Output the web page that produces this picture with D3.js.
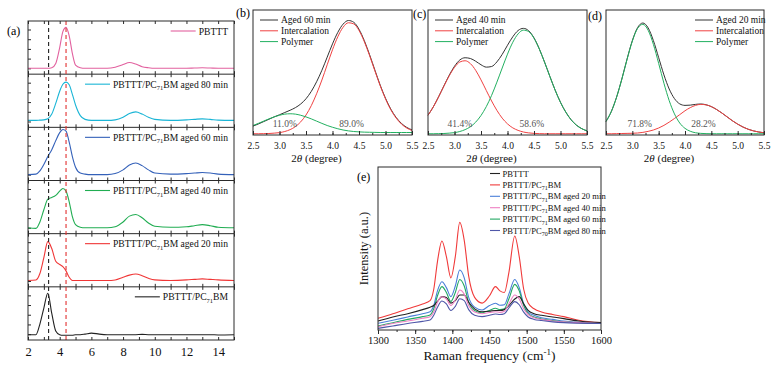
<!DOCTYPE html>
<html>
<head>
<meta charset="utf-8">
<script src="https://cdn.jsdelivr.net/npm/d3@7"></script>
<style>
  html, body { margin: 0; padding: 0; background: #fff; }
  svg { display: block; }
</style>
</head>
<body>
<svg id="fig" width="776" height="367"></svg>
<script>
// ── Data ──────────────────────────────────────────────────────────────────────
// (a) XRD profiles, 2θ grid and normalised intensity per sub-panel (top → bottom)
const aX = [2, 2.5, 2.75, 3, 3.25, 3.5, 3.75, 4, 4.2, 4.4, 4.6, 4.8, 5, 5.3, 5.6, 6,
            6.5, 7, 7.5, 8, 8.4, 8.8, 9.2, 9.6, 10, 11, 12, 12.5, 13, 13.5, 14, 15];
const aLabels = ['PBTTT', 'PBTTT/PC_71_BM aged 80 min', 'PBTTT/PC_71_BM aged 60 min',
                 'PBTTT/PC_71_BM aged 40 min', 'PBTTT/PC_71_BM aged 20 min', 'PBTTT/PC_71_BM'];
const aPBTTT = [0.11, 0.11, 0.11, 0.11, 0.11, 0.12, 0.2, 0.5, 0.8, 0.88, 0.72, 0.39, 0.17, 0.12, 0.11, 0.11,
                0.11, 0.11, 0.13, 0.18, 0.22, 0.19, 0.14, 0.12, 0.11, 0.11, 0.11, 0.115, 0.12, 0.115, 0.11, 0.11];
const aAged80 = [0.13, 0.13, 0.135, 0.14, 0.16, 0.25, 0.45, 0.68, 0.81, 0.85, 0.8, 0.62, 0.42, 0.22, 0.15, 0.13,
                 0.13, 0.13, 0.14, 0.19, 0.26, 0.29, 0.25, 0.19, 0.15, 0.13, 0.14, 0.15, 0.16, 0.15, 0.135, 0.13];
const aAged60 = [0.11, 0.12, 0.18, 0.3, 0.45, 0.58, 0.75, 0.9, 0.96, 0.93, 0.72, 0.45, 0.25, 0.14, 0.12, 0.11,
                 0.11, 0.11, 0.13, 0.2, 0.29, 0.33, 0.28, 0.2, 0.14, 0.12, 0.13, 0.14, 0.15, 0.14, 0.12, 0.11];
const aAged40 = [0.11, 0.1, 0.22, 0.45, 0.65, 0.68, 0.72, 0.8, 0.85, 0.8, 0.6, 0.32, 0.17, 0.12, 0.11, 0.11,
                 0.11, 0.11, 0.13, 0.22, 0.33, 0.36, 0.3, 0.2, 0.14, 0.12, 0.13, 0.15, 0.17, 0.15, 0.12, 0.11];
const aAged20 = [0.12, 0.13, 0.25, 0.55, 0.85, 0.72, 0.48, 0.42, 0.38, 0.3, 0.18, 0.12, 0.12, 0.12, 0.12, 0.12,
                 0.12, 0.12, 0.13, 0.18, 0.22, 0.24, 0.21, 0.16, 0.13, 0.12, 0.13, 0.14, 0.15, 0.14, 0.13, 0.12];
const aBlend = [0.1, 0.1, 0.3, 0.6, 0.88, 0.5, 0.17, 0.1, 0.09, 0.09, 0.09, 0.09, 0.1, 0.1, 0.11, 0.13,
                0.11, 0.1, 0.1, 0.1, 0.1, 0.1, 0.105, 0.1, 0.1, 0.1, 0.1, 0.1, 0.1, 0.1, 0.095, 0.1];
const aDashBlack = 3.3;
const aDashRed = 4.4;

// (b)–(d) peak fits, 2θ = 2.5 … 5.5 step 0.1
const fitX = [2.5, 2.6, 2.7, 2.8, 2.9, 3.0, 3.1, 3.2, 3.3, 3.4, 3.5, 3.6, 3.7, 3.8, 3.9, 4.0,
              4.1, 4.2, 4.3, 4.4, 4.5, 4.6, 4.7, 4.8, 4.9, 5.0, 5.1, 5.2, 5.3, 5.4, 5.5];
const fitTicks = [2.5, 3.0, 3.5, 4.0, 4.5, 5.0, 5.5];

const bTotal = [0.071, 0.088, 0.107, 0.126, 0.145, 0.162, 0.18, 0.198, 0.219, 0.248, 0.29, 0.349, 0.426, 0.518, 0.623, 0.729,
                0.821, 0.887, 0.916, 0.902, 0.846, 0.755, 0.642, 0.519, 0.399, 0.294, 0.207, 0.141, 0.093, 0.061, 0.041];
const bInter = [0.01, 0.01, 0.011, 0.012, 0.015, 0.019, 0.028, 0.043, 0.067, 0.105, 0.16, 0.235, 0.33, 0.44, 0.562, 0.682,
                0.786, 0.862, 0.898, 0.889, 0.836, 0.747, 0.635, 0.513, 0.394, 0.289, 0.202, 0.136, 0.088, 0.056, 0.036];
const bPoly = [0.076, 0.093, 0.111, 0.129, 0.145, 0.158, 0.167, 0.17, 0.167, 0.158, 0.145, 0.129, 0.111, 0.093, 0.076, 0.062,
               0.05, 0.04, 0.033, 0.028, 0.025, 0.023, 0.022, 0.021, 0.02, 0.02, 0.02, 0.02, 0.02, 0.02, 0.02];

const cTotal = [0.158, 0.225, 0.306, 0.393, 0.478, 0.55, 0.6, 0.618, 0.612, 0.59, 0.562, 0.543, 0.548, 0.585, 0.645, 0.718,
                0.786, 0.836, 0.853, 0.834, 0.777, 0.689, 0.582, 0.468, 0.358, 0.261, 0.183, 0.122, 0.079, 0.051, 0.033];
const cInter = [0.158, 0.225, 0.305, 0.391, 0.473, 0.541, 0.584, 0.594, 0.571, 0.517, 0.441, 0.356, 0.272, 0.197, 0.135, 0.089,
                0.057, 0.037, 0.024, 0.017, 0.013, 0.011, 0.01, 0.01, 0.01, 0.01, 0.01, 0.01, 0.01, 0.01, 0.01];
const cPoly = [0.01, 0.01, 0.011, 0.012, 0.015, 0.019, 0.028, 0.043, 0.066, 0.103, 0.156, 0.227, 0.317, 0.423, 0.536, 0.647,
               0.742, 0.809, 0.839, 0.827, 0.774, 0.688, 0.582, 0.468, 0.358, 0.261, 0.183, 0.122, 0.079, 0.051, 0.033];

const dTotal = [0.108, 0.187, 0.302, 0.447, 0.608, 0.755, 0.859, 0.896, 0.857, 0.755, 0.619, 0.481, 0.368, 0.291, 0.249, 0.237,
                0.239, 0.245, 0.248, 0.242, 0.227, 0.204, 0.176, 0.145, 0.114, 0.087, 0.064, 0.046, 0.033, 0.024, 0.018];
const dInter = [0.01, 0.01, 0.011, 0.012, 0.013, 0.014, 0.016, 0.021, 0.029, 0.04, 0.056, 0.077, 0.103, 0.132, 0.163, 0.194,
                0.219, 0.237, 0.245, 0.241, 0.227, 0.204, 0.176, 0.145, 0.114, 0.087, 0.064, 0.046, 0.033, 0.024, 0.018];
const dPoly = [0.108, 0.187, 0.301, 0.445, 0.605, 0.751, 0.853, 0.885, 0.838, 0.725, 0.573, 0.414, 0.275, 0.169, 0.096, 0.053,
               0.03, 0.018, 0.013, 0.011, 0.01, 0.01, 0.01, 0.01, 0.01, 0.01, 0.01, 0.01, 0.01, 0.01, 0.01];

// (e) Raman spectra
const eX = [1300, 1320, 1340, 1360, 1370, 1375, 1380, 1386, 1392, 1398, 1404, 1410, 1416, 1422, 1430, 1440,
            1450, 1458, 1464, 1470, 1476, 1484, 1490, 1496, 1502, 1510, 1520, 1535, 1550, 1570, 1600];
const eTicks = [1300, 1350, 1400, 1450, 1500, 1550, 1600];
const eLabels = ['PBTTT', 'PBTTT/PC_71_BM', 'PBTTT/PC_71_BM aged 20 min', 'PBTTT/PC_71_BM aged 40 min',
                 'PBTTT/PC_71_BM aged 60 min', 'PBTTT/PC_70_BM aged 80 min'];
const ePBTTT = [0.055, 0.08, 0.1, 0.125, 0.14, 0.15, 0.175, 0.205, 0.2, 0.165, 0.18, 0.215, 0.215, 0.17, 0.13, 0.112,
                0.115, 0.12, 0.12, 0.125, 0.15, 0.19, 0.205, 0.16, 0.12, 0.1, 0.09, 0.08, 0.07, 0.055, 0.045];
const eBlend = [0.072, 0.1, 0.13, 0.16, 0.18, 0.25, 0.42, 0.546, 0.45, 0.32, 0.45, 0.66, 0.55, 0.33, 0.2, 0.165,
                0.21, 0.266, 0.24, 0.23, 0.35, 0.577, 0.45, 0.25, 0.165, 0.13, 0.11, 0.095, 0.082, 0.06, 0.045];
const eAged20 = [0.041, 0.06, 0.08, 0.1, 0.112, 0.15, 0.24, 0.296, 0.26, 0.205, 0.27, 0.368, 0.32, 0.2, 0.14, 0.123,
                 0.15, 0.164, 0.152, 0.155, 0.22, 0.31, 0.26, 0.16, 0.11, 0.09, 0.075, 0.065, 0.055, 0.047, 0.04];
const eAged40 = [0.02, 0.04, 0.055, 0.072, 0.082, 0.11, 0.17, 0.204, 0.19, 0.15, 0.185, 0.245, 0.22, 0.15, 0.11, 0.1,
                 0.107, 0.112, 0.108, 0.115, 0.16, 0.215, 0.19, 0.13, 0.095, 0.075, 0.065, 0.055, 0.05, 0.045, 0.04];
const eAged60 = [0.025, 0.045, 0.065, 0.082, 0.092, 0.13, 0.21, 0.266, 0.23, 0.175, 0.23, 0.31, 0.27, 0.17, 0.12, 0.106,
                 0.12, 0.133, 0.125, 0.13, 0.19, 0.28, 0.24, 0.15, 0.1, 0.08, 0.068, 0.058, 0.05, 0.045, 0.04];
const eAged80 = [0.01, 0.025, 0.04, 0.053, 0.061, 0.09, 0.14, 0.178, 0.16, 0.12, 0.145, 0.192, 0.18, 0.125, 0.09, 0.082,
                 0.09, 0.098, 0.095, 0.1, 0.135, 0.174, 0.155, 0.11, 0.08, 0.065, 0.058, 0.05, 0.045, 0.042, 0.04];

// ── Setup ─────────────────────────────────────────────────────────────────────
const svg = d3.select('#fig');
const INK = '#2a2a2a';
const SERIF = 'Liberation Serif, Times New Roman, serif';

function frame(x0, y0, x1, y1) {
  svg.append('rect')
    .attr('x', x0).attr('y', y0)
    .attr('width', x1 - x0).attr('height', y1 - y0)
    .attr('fill', 'none').attr('stroke', INK).attr('stroke-width', 1);
}

// "A_sub_B" → subscripted middle part
function richText(sel, str, subSize) {
  let shifted = false;
  str.split('_').forEach((p, i) => {
    if (!p) return;
    const t = sel.append('tspan').text(p);
    if (i % 2 === 1) {
      t.attr('font-size', subSize).attr('dy', 2.5);
      shifted = true;
    } else if (shifted) {
      t.attr('dy', -2.5);
      shifted = false;
    }
  });
  return sel;
}

function plotLine(xs, ys, sx, sy, color, width) {
  const line = d3.line()
    .x((d, i) => sx(xs[i]))
    .y(d => sy(d))
    .curve(d3.curveMonotoneX);
  svg.append('path')
    .datum(ys)
    .attr('d', line)
    .attr('fill', 'none')
    .attr('stroke', color)
    .attr('stroke-width', width || 1.1);
}

function tickAxis(gen, x, y) {
  const g = svg.append('g')
    .attr('transform', `translate(${x},${y})`)
    .call(gen);
  g.attr('font-family', SERIF);
  g.select('.domain').remove();
  g.selectAll('line').attr('stroke', INK);
  g.selectAll('text').attr('fill', '#111');
  return g;
}

// ── Panel (a) ─────────────────────────────────────────────────────────────────
const A = { x0: 28, x1: 234, y0: 21, y1: 340 };
const aSeries = [aPBTTT, aAged80, aAged60, aAged40, aAged20, aBlend];
const aColors = ['#e2619f', '#1ab5d6', '#3461b9', '#21ad52', '#f03636', '#222'];
const axScale = d3.scaleLinear().domain([2, 15]).range([A.x0, A.x1]);
const rowH = (A.y1 - A.y0) / aSeries.length;

aSeries.forEach((ys, i) => {
  const top = A.y0 + i * rowH;
  const bot = top + rowH;
  const sy = d3.scaleLinear().domain([0, 1]).range([bot, top]);

  // inward ticks: top, bottom, left
  tickAxis(d3.axisBottom(axScale).tickValues(d3.range(2, 16, 1)).tickSize(-3).tickFormat(''), 0, bot);
  tickAxis(d3.axisTop(axScale).tickValues(d3.range(2, 16, 1)).tickSize(-3).tickFormat(''), 0, top);
  tickAxis(d3.axisLeft(sy).tickValues(d3.range(0.11, 0.95, 0.1825)).tickSize(-3).tickFormat(''), A.x0, 0);

  plotLine(aX, ys, axScale, sy, aColors[i], 1.1);

  // legend, right aligned
  const ty = top + 13.5;
  const txt = svg.append('text')
    .attr('x', 228).attr('y', ty)
    .attr('text-anchor', 'end')
    .attr('font-family', SERIF)
    .attr('font-size', 9.6)
    .attr('fill', '#111');
  richText(txt, aLabels[i], 6.5);
  const w = txt.node().getComputedTextLength();
  svg.append('line')
    .attr('x1', 228 - w - 28).attr('x2', 228 - w - 3)
    .attr('y1', ty - 3.5).attr('y2', ty - 3.5)
    .attr('stroke', aColors[i]).attr('stroke-width', 1.1);

  if (i > 0) {
    svg.append('line')
      .attr('x1', A.x0).attr('x2', A.x1)
      .attr('y1', top).attr('y2', top)
      .attr('stroke', INK).attr('stroke-width', 1);
  }
});

// reference lines
[[aDashBlack, '#222'], [aDashRed, '#e23030']].forEach(([v, c]) => {
  svg.append('line')
    .attr('x1', axScale(v)).attr('x2', axScale(v))
    .attr('y1', A.y0).attr('y2', A.y1)
    .attr('stroke', c).attr('stroke-width', 1.1)
    .attr('stroke-dasharray', '4,3');
});

frame(A.x0, A.y0, A.x1, A.y1);

tickAxis(d3.axisBottom(axScale).tickValues(d3.range(2, 15, 2)).tickSize(0).tickPadding(7), 0, A.y1)
  .selectAll('text').attr('font-size', 12.5);

svg.append('text').attr('x', 7).attr('y', 35).attr('font-size', 12).text('(a)');

// ── Panels (b)–(d) ────────────────────────────────────────────────────────────
const fits = [
  { tag: '(b)', tagX: 236, tagY: 17, x0: 253, x1: 412, total: bTotal, inter: bInter, poly: bPoly,
    first: 'Aged 60 min', legX: 7, pct: [['11.0%', 3.1], ['89.0%', 4.36]] },
  { tag: '(c)', tagX: 413, tagY: 18, x0: 428, x1: 587, total: cTotal, inter: cInter, poly: cPoly,
    first: 'Aged 40 min', legX: 7, pct: [['41.4%', 3.1], ['58.6%', 4.46]] },
  { tag: '(d)', tagX: 588, tagY: 20, x0: 606, x1: 764, total: dTotal, inter: dInter, poly: dPoly,
    first: 'Aged 20 min', legX: 89, pct: [['71.8%', 3.14], ['28.2%', 4.35]] },
];
const FIT_Y0 = 10, FIT_Y1 = 135;
const fitColors = { total: '#333', inter: '#f04242', poly: '#22b060' };

fits.forEach(p => {
  const sx = d3.scaleLinear().domain([2.5, 5.5]).range([p.x0, p.x1]);
  const sy = d3.scaleLinear().domain([0, 1]).range([FIT_Y1, FIT_Y0]);

  plotLine(fitX, p.total, sx, sy, fitColors.total, 1);
  plotLine(fitX, p.inter, sx, sy, fitColors.inter, 1);
  plotLine(fitX, p.poly, sx, sy, fitColors.poly, 1);

  frame(p.x0, FIT_Y0, p.x1, FIT_Y1);

  tickAxis(d3.axisBottom(sx).tickValues(d3.range(2.5, 5.55, 0.25)).tickSize(-2).tickFormat(''), 0, FIT_Y1);
  tickAxis(d3.axisBottom(sx).tickValues(fitTicks).tickSize(-4).tickPadding(7).tickFormat(d3.format('.1f')), 0, FIT_Y1)
    .selectAll('text').attr('font-size', 9.5);

  const title = svg.append('text')
    .attr('x', (p.x0 + p.x1) / 2 - 16).attr('y', 162)
    .attr('text-anchor', 'middle').attr('font-size', 11).attr('fill', '#111');
  title.append('tspan').text('2');
  title.append('tspan').attr('font-style', 'italic').text('θ');
  title.append('tspan').text(' (degree)');

  // legend
  [[p.first, fitColors.total], ['Intercalation', fitColors.inter], ['Polymer', fitColors.poly]]
    .forEach(([lab, col], k) => {
      const ly = 20 + k * 10.8;
      svg.append('line')
        .attr('x1', p.x0 + p.legX).attr('x2', p.x0 + p.legX + 18)
        .attr('y1', ly).attr('y2', ly)
        .attr('stroke', col).attr('stroke-width', 1);
      svg.append('text')
        .attr('x', p.x0 + p.legX + 21).attr('y', ly + 3.3)
        .attr('font-size', 9.5).attr('fill', '#111').text(lab);
    });

  p.pct.forEach(([t, v]) => {
    svg.append('text')
      .attr('x', sx(v)).attr('y', 127)
      .attr('text-anchor', 'middle').attr('font-size', 9.5).attr('fill', '#555').text(t);
  });

  svg.append('text').attr('x', p.tagX).attr('y', p.tagY).attr('font-size', 12).text(p.tag);
});

// ── Panel (e) ─────────────────────────────────────────────────────────────────
const E = { x0: 378, x1: 601, y0: 167, y1: 330 };
const exScale = d3.scaleLinear().domain([1300, 1600]).range([E.x0, E.x1]);
const eyScale = d3.scaleLinear().domain([0, 1]).range([E.y1, E.y0]);
const eSeries = [ePBTTT, eBlend, eAged20, eAged40, eAged60, eAged80];
const eColors = ['#222', '#f03a3a', '#4a7fd8', '#ee7fc2', '#22a862', '#4f57a8'];

// draw back to front so the lower traces stay visible
[1, 2, 4, 0, 3, 5].forEach(i => plotLine(eX, eSeries[i], exScale, eyScale, eColors[i], 1.1));

frame(E.x0, E.y0, E.x1, E.y1);

tickAxis(d3.axisBottom(exScale).tickValues(d3.range(1300, 1601, 25)).tickSize(2).tickFormat(''), 0, E.y1);
tickAxis(d3.axisBottom(exScale).tickValues(eTicks).tickSize(4).tickPadding(3).tickFormat(d3.format('d')), 0, E.y1)
  .selectAll('text').attr('font-size', 10.5);

const eTitle = svg.append('text')
  .attr('x', (E.x0 + E.x1) / 2).attr('y', 360)
  .attr('text-anchor', 'middle').attr('font-size', 13.5).attr('fill', '#111');
eTitle.append('tspan').text('Raman frequency (cm');
eTitle.append('tspan').attr('font-size', 9).attr('dy', -5).text('-1');
eTitle.append('tspan').attr('dy', 5).text(')');

svg.append('text')
  .attr('transform', `translate(368,${(E.y0 + E.y1) / 2}) rotate(-90)`)
  .attr('text-anchor', 'middle').attr('font-size', 12.5).attr('fill', '#111')
  .text('Intensity (a.u.)');

svg.append('text').attr('x', 357).attr('y', 181).attr('font-size', 12).text('(e)');

eLabels.forEach((lab, i) => {
  const ly = 173.5 + i * 11.4;
  svg.append('line')
    .attr('x1', 490).attr('x2', 500)
    .attr('y1', ly).attr('y2', ly)
    .attr('stroke', eColors[i]).attr('stroke-width', 1.1);
  const t = svg.append('text')
    .attr('x', 502.5).attr('y', ly + 3)
    .attr('font-size', 8.6).attr('fill', '#111');
  richText(t, lab, 6);
});

// every text in the serif face of the original figure
svg.selectAll('text').attr('font-family', SERIF);
</script>
</body>
</html>
